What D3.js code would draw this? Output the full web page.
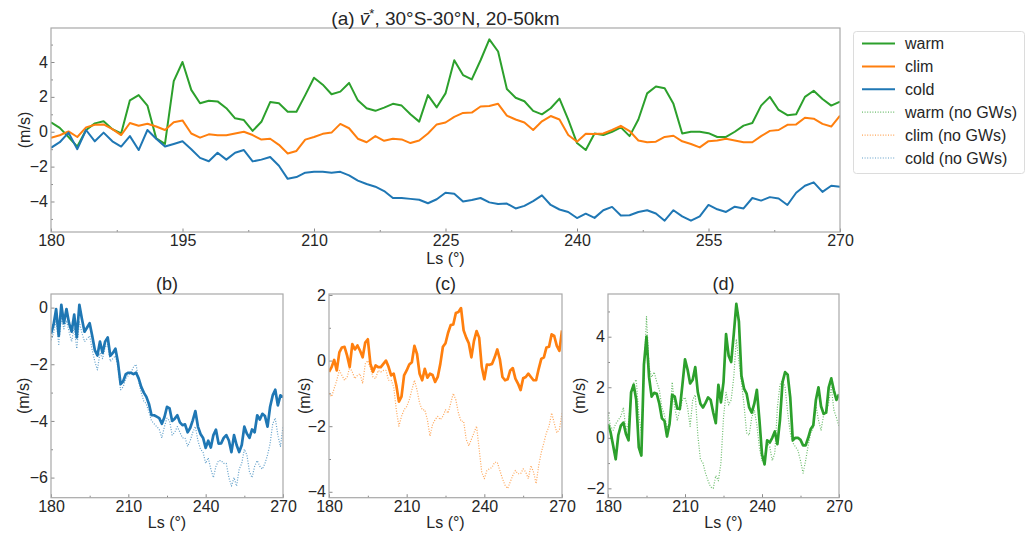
<!DOCTYPE html>
<html>
<head>
<meta charset="utf-8">
<title>Residual mean meridional wind, 30S-30N</title>
<style>
	body { margin: 0; background: white; }
	svg text { font-family: "Liberation Sans", Arial, sans-serif; fill: #262626; }
	.axis text { font-size: 16px; }
	.axis line { stroke: #8a8a8a; }
	.lbl { font-size: 16px; }
	.legend-txt { font-size: 16px; }
</style>
</head>
<body>
<svg id="fig" width="1033" height="537"></svg>

<script src="https://cdnjs.cloudflare.com/ajax/libs/d3/7.8.5/d3.min.js"></script>
<script>
// Ls (deg), one value per degree
var ls = d3.range(180, 271);

// residual mean meridional wind v* (m/s), with gravity waves
var warm = [
	0.54, 0.22, -0.3, -0.85, 0.1, 0.48, 0.6, 0.15, -0.1, 1.8,
	2.1, 1.5, -0.38, -0.7, 2.9, 4.0, 2.4, 1.63, 1.78, 1.74,
	1.35, 0.77, 0.67, 0.05, 0.57, 1.7, 1.63, 1.15, 1.15, 2.1,
	3.1, 2.7, 2.15, 2.3, 2.8, 1.8, 1.35, 1.2, 1.38, 1.6,
	1.5, 1.0, 0.58, 2.1, 1.4, 2.2, 4.1, 3.25, 3.0, 4.1,
	5.3, 4.6, 2.45, 1.95, 1.75, 1.2, 1.0, 1.35, 1.9, 0.7,
	-0.65, -1.05, -0.1, -0.19, 0.0, 0.25, -0.25, 0.7, 2.2, 2.6,
	2.5, 1.6, -0.1, 0.0, 0.0, -0.08, -0.3, -0.3, 0.0, 0.35,
	0.5, 1.5, 2.0, 1.25, 0.95, 1.0, 2.0, 2.35, 1.88, 1.5,
	1.72
];
var clim = [
	-0.34, -0.2, 0.02, -0.3, 0.25, 0.4, 0.42, 0.15, -0.19, 0.5,
	0.34, 0.46, 0.3, 0.1, 0.55, 0.65, -0.1, -0.34, -0.15, -0.2,
	-0.2, -0.1, 0.0, -0.19, -0.45, -0.4, -0.75, -1.25, -1.1, -0.45,
	-0.3, -0.12, -0.05, 0.45, 0.2, -0.4, -0.6, -0.25, -0.52, -0.4,
	-0.44, -0.65, -0.5, -0.1, 0.42, 0.53, 0.85, 1.08, 1.1, 1.45,
	1.48, 1.6, 0.92, 0.7, 0.53, 0.1, 0.6, 0.9, 0.7, -0.19,
	-0.57, -0.12, -0.13, -0.1, 0.1, 0.34, 0.04, -0.5, -0.6, -0.57,
	-0.3, -0.23, -0.55, -0.7, -0.9, -0.54, -0.5, -0.4, -0.5, -0.6,
	-0.6, -0.25, 0.05, 0.1, 0.4, 0.42, 0.8, 0.75, 0.45, 0.3,
	0.92
];
var cold = [
	-0.92, -0.6, -0.05, -1.0, 0.1, -0.55, -0.05, -0.55, -0.85, -0.25,
	-1.05, 0.1, -0.4, -0.85, -0.7, -0.55, -1.0, -1.5, -1.69, -1.2,
	-1.6, -1.2, -1.05, -1.7, -1.6, -1.45, -1.95, -2.7, -2.6, -2.35,
	-2.3, -2.3, -2.35, -2.3, -2.5, -2.8, -3.0, -3.15, -3.4, -3.8,
	-3.8, -3.85, -3.9, -4.1, -3.87, -3.5, -3.56, -4.0, -3.92, -3.8,
	-4.05, -4.15, -4.12, -4.4, -4.25, -3.98, -3.65, -4.2, -4.46, -4.6,
	-4.95, -4.7, -4.94, -4.5, -4.31, -4.8, -4.79, -4.6, -4.5, -4.69,
	-5.1, -4.5, -4.85, -5.1, -4.85, -4.2, -4.45, -4.6, -4.3, -4.4,
	-3.8, -3.95, -3.75, -3.83, -4.2, -3.5, -3.1, -2.9, -3.45, -3.1,
	-3.16
];

// same runs without gravity waves
var warmNoGW = [
	1.0, 0.45, 0.3, 0.55, 0.7, 0.85, 1.2, 0.3, 0.6, 1.7,
	2.15, 2.3, 0.9, 0.2, 2.4, 4.8, 2.8, 2.4, 2.6, 2.2,
	1.9, 1.2, 0.9, 0.4, 0.5, 2.2, 1.2, 0.7, 1.1, 1.5,
	1.6, 1.2, 0.45, 1.5, 1.7, 0.1, -0.85, -1.0, -1.4, -1.7,
	-1.95, -2.0, -1.5, -1.7, -1.0, 0.8, 1.8, 1.3, 1.5, 2.4,
	3.9, 3.0, 2.2, 1.3, 0.2, 0.1, 0.8, 1.1, 0.5, -0.4,
	-0.9, -0.75, -0.2, -0.35, -0.9, -0.6, 1.2, 2.1, 2.3, 2.0,
	1.0, 0.2, -0.2, -0.35, -0.5, -0.9, -1.4, -0.9, -0.3, 0.2,
	0.4, 1.3, 0.7, 0.3, 0.9, 1.0, 1.4, 2.0, 1.1, 0.8,
	0.45
];
var climNoGW = [
	-1.0, -1.1, -0.85, -0.6, -0.3, -0.45, -0.6, -0.5, -0.2, -0.35,
	-0.55, -0.45, -0.4, -0.7, -0.1, 0.0, -0.25, -0.5, -0.55, -0.3,
	-0.35, -0.3, -0.3, -0.6, -0.6, -0.8, -1.5, -2.0, -1.7, -1.5,
	-1.4, -1.2, -0.9, -0.6, -0.9, -1.3, -1.5, -1.5, -1.8, -2.3,
	-1.95, -1.8, -1.7, -1.8, -1.7, -1.5, -1.6, -1.3, -1.0, -1.2,
	-1.6, -1.85, -1.85, -2.4, -2.6, -2.4, -2.2, -2.0, -2.7, -3.4,
	-3.6, -3.35, -3.3, -3.25, -3.1, -3.1, -3.35, -3.6, -3.8, -3.9,
	-3.7, -3.5, -3.35, -3.45, -3.45, -3.3, -3.4, -3.6, -3.2, -3.4,
	-3.75, -3.2, -2.8, -2.5, -2.2, -2.0, -1.6, -1.9, -2.2, -2.1,
	-1.6
];
var coldNoGW = [
	-1.15, -0.9, -0.45, -1.3, -0.35, -0.75, -0.45, -0.85, -1.2, -0.7,
	-1.45, -0.5, -0.9, -1.2, -1.1, -1.0, -1.5, -1.9, -2.2, -1.6,
	-1.8, -1.4, -1.3, -1.9, -1.8, -1.7, -2.1, -2.9, -2.8, -2.5,
	-2.4, -2.3, -2.1, -2.0, -2.6, -3.0, -3.3, -3.4, -3.7, -4.0,
	-4.1, -4.2, -4.3, -4.6, -4.2, -3.9, -4.0, -4.5, -4.4, -4.2,
	-4.4, -4.6, -4.6, -4.9, -4.7, -4.4, -4.2, -4.7, -5.0, -5.1,
	-5.5, -5.3, -5.7, -6.0, -5.6, -5.4, -5.4, -5.5, -5.5, -6.0,
	-6.3, -6.0, -6.3, -5.7, -5.5, -5.0, -5.2, -5.8, -6.0, -5.6,
	-5.4, -5.6, -5.7, -5.5, -5.2, -4.8, -4.1, -3.9, -4.5, -4.9,
	-4.2
];

var legendNames = ["warm", "clim", "cold", "warm (no GWs)", "clim (no GWs)", "cold (no GWs)"];
var topTicksX = [180, 195, 210, 225, 240, 255, 270];
var botTicksX = [180, 210, 240, 270];

var colors = { warm: "#2ca02c", clim: "#ff7f0e", cold: "#1f77b4" };

var svg = d3.select("#fig");
svg.append("rect").attr("width", 1033).attr("height", 537).attr("fill", "white");

var clipN = 0;

function drawPanel(p) {
	var x = d3.scaleLinear().domain([180, 270]).range([p.left, p.right]);
	var y = d3.scaleLinear().domain(p.ydom).range([p.bottom, p.top]);
	var g = svg.append("g");

	var id = "clip" + (clipN++);
	g.append("clipPath").attr("id", id)
		.append("rect").attr("x", p.left).attr("y", p.top)
		.attr("width", p.right - p.left).attr("height", p.bottom - p.top);

	// minor ticks (inside)
	g.append("g").attr("class", "axis").attr("transform", `translate(0,${p.bottom})`)
		.call(d3.axisBottom(x).tickValues(p.xminor).tickSize(-2).tickFormat(""));
	g.append("g").attr("class", "axis").attr("transform", `translate(${p.left},0)`)
		.call(d3.axisLeft(y).tickValues(p.yminor).tickSize(-2).tickFormat(""));

	// major ticks
	g.append("g").attr("class", "axis").attr("transform", `translate(0,${p.bottom})`)
		.call(d3.axisBottom(x).tickValues(p.xticks).tickSize(-3.5).tickPadding(p.xpad).tickFormat(d3.format("d")));
	g.append("g").attr("class", "axis").attr("transform", `translate(${p.left},0)`)
		.call(d3.axisLeft(y).tickValues(p.yticks).tickSize(-3.5).tickPadding(3).tickFormat(d3.format("d")));

	g.selectAll(".domain").remove();

	var line = d3.line()
		.x(function(d, i) { return x(ls[i]); })
		.y(function(d) { return y(d); });

	var lines = g.append("g").attr("clip-path", `url(#${id})`);
	p.series.forEach(function(s) {
		lines.append("path")
			.attr("d", line(s.values))
			.attr("fill", "none")
			.attr("stroke", s.color)
			.attr("stroke-width", s.width)
			.attr("stroke-opacity", s.dotted ? 0.7 : 1)
			.attr("stroke-dasharray", s.dotted ? "1,1.6" : null)
			.attr("stroke-linejoin", "round");
	});

	// frame
	g.append("rect")
		.attr("x", p.left).attr("y", p.top)
		.attr("width", p.right - p.left).attr("height", p.bottom - p.top)
		.attr("fill", "none").attr("stroke", "#a8a8a8").attr("stroke-width", 1.2);

	// labels
	g.append("text").attr("class", "lbl")
		.attr("text-anchor", "middle")
		.attr("x", (p.left + p.right) / 2).attr("y", p.xlabelY)
		.text("Ls (°)");

	g.append("text").attr("class", "lbl")
		.attr("text-anchor", "middle")
		.attr("dominant-baseline", "central")
		.attr("transform", `translate(${p.left - p.ylabelOff},${(p.top + p.bottom) / 2}) rotate(-90)`)
		.text("(m/s)");

	return { x: x, y: y, g: g };
}

// (a) all three solid runs
drawPanel({
	left: 51, right: 840, top: 28, bottom: 232,
	ydom: [-5.75, 5.95],
	xticks: topTicksX, xminor: [187.5, 202.5, 217.5, 232.5, 247.5, 262.5],
	yticks: [-4, -2, 0, 2, 4], yminor: [-5, -3, -1, 1, 3, 5],
	xpad: 3, xlabelY: 263.5, ylabelOff: 27,
	series: [
		{ values: warm, color: colors.warm, width: 2 },
		{ values: clim, color: colors.clim, width: 2 },
		{ values: cold, color: colors.cold, width: 2 }
	]
});

var title = svg.append("text")
	.attr("x", 445.5).attr("y", 25)
	.attr("text-anchor", "middle")
	.style("font-size", "19px");
title.append("tspan").text("(a) ");
title.append("tspan").style("font-style", "italic").text("v\u0304");
title.append("tspan").attr("dy", -7).style("font-size", "13px").text("*");
title.append("tspan").attr("dy", 7).text(", 30°S-30°N, 20-50km");

// bottom panels: run with and without gravity waves
var bottom = [
	{ name: "(b)", left: 51, right: 283, ydom: [-6.71, 0.48], yticks: [-6, -4, -2, 0], yminor: [-5, -3, -1],
		solid: cold, dotted: coldNoGW, color: colors.cold, ylabelOff: 28 },
	{ name: "(c)", left: 329, right: 562, ydom: [-4.18, 2.03], yticks: [-4, -2, 0, 2], yminor: [-3, -1, 1],
		solid: clim, dotted: climNoGW, color: colors.clim, ylabelOff: 25 },
	{ name: "(d)", left: 608, right: 839, ydom: [-2.37, 5.69], yticks: [-2, 0, 2, 4], yminor: [-1, 1, 3, 5],
		solid: warm, dotted: warmNoGW, color: colors.warm, ylabelOff: 29 }
];

bottom.forEach(function(b) {
	drawPanel({
		left: b.left, right: b.right, top: 294, bottom: 497.7,
		ydom: b.ydom,
		xticks: botTicksX, xminor: [195, 225, 255],
		yticks: b.yticks, yminor: b.yminor,
		xpad: 3, xlabelY: 528, ylabelOff: b.ylabelOff,
		series: [
			{ values: b.dotted, color: b.color, width: 1.2, dotted: true },
			{ values: b.solid, color: b.color, width: 2.7 }
		]
	});
	svg.append("text")
		.attr("x", (b.left + b.right) / 2).attr("y", 290)
		.attr("text-anchor", "middle")
		.style("font-size", "18px")
		.text(b.name);
});

// legend
var legendColors = [colors.warm, colors.clim, colors.cold, colors.warm, colors.clim, colors.cold];
var lg = svg.append("g");
lg.append("rect")
	.attr("x", 853.5).attr("y", 31.5).attr("width", 171).attr("height", 142)
	.attr("rx", 3).attr("fill", "white").attr("stroke", "#dcdcdc");

var rowY = d3.scalePoint().domain(legendNames).range([43.5, 158]);

lg.selectAll(".legend-line").data(legendNames)
	.enter().append("line")
	.attr("class", "legend-line")
	.attr("x1", 862).attr("x2", 895)
	.attr("y1", function(d) { return rowY(d); })
	.attr("y2", function(d) { return rowY(d); })
	.attr("stroke", function(d, i) { return legendColors[i]; })
	.attr("stroke-width", function(d, i) { return i < 3 ? 2 : 1.2; })
	.attr("stroke-opacity", function(d, i) { return i < 3 ? 1 : 0.7; })
	.attr("stroke-dasharray", function(d, i) { return i < 3 ? null : "1,1.6"; });

lg.selectAll(".legend-txt").data(legendNames)
	.enter().append("text")
	.attr("class", "legend-txt")
	.attr("x", 905)
	.attr("y", function(d) { return rowY(d); })
	.attr("dy", "0.35em")
	.text(function(d) { return d; });
</script>
</body>
</html>
